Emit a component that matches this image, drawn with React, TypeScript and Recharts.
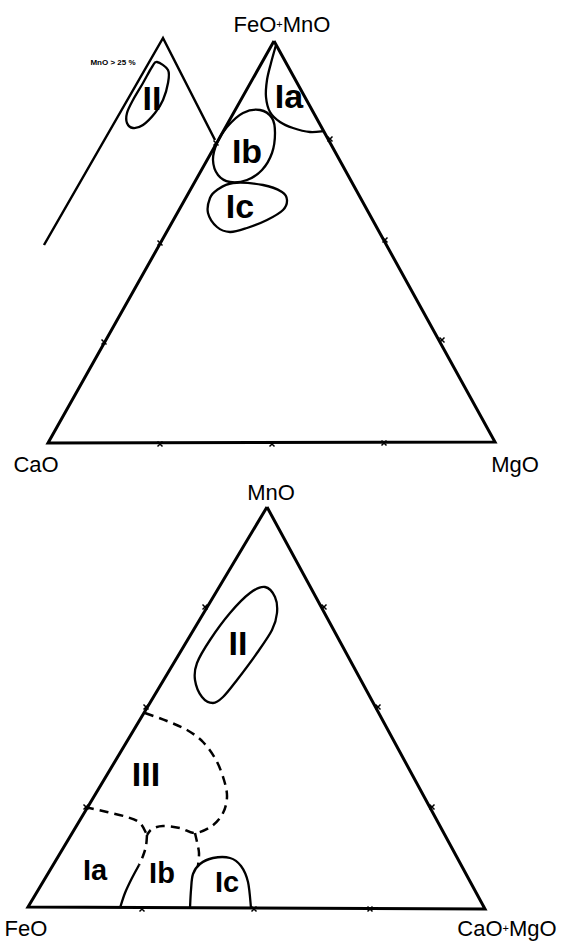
import { ComposedChart, Line, XAxis, YAxis, ReferenceDot } from 'recharts';

type Pt = { x: number; y: number };
const pts = (a: number[][]): Pt[] => a.map(([x, y]) => ({ x, y }));

// Upper diagram: CaO - MgO - (FeO+MnO)
const TOP_FRAME = pts([[274, 41], [48, 443], [495, 442], [274, 41]]);
const INSET_FRAME = pts([[44, 245], [163, 38], [215, 140]]);
const TOP_TICKS = pts([
  [216, 143], [160, 243], [104, 342],
  [330, 139], [385, 240], [442, 340],
  [160, 444], [272, 444], [384, 443],
]);
const TOP_IA = pts([[276, 45], [271, 63], [267, 80], [266, 97], [270, 112], [280, 122], [293, 128], [310, 132], [324, 131]]);
const TOP_IB = pts([[260, 110], [272, 118], [275, 133], [272, 153], [262, 170], [247, 180], [230, 182], [218, 175], [213, 160], [217, 143], [227, 127], [243, 113]]);
const TOP_IC = pts([[233, 183], [263, 185], [282, 192], [287, 200], [283, 210], [267, 220], [247, 228], [230, 232], [217, 227], [208, 213], [210, 198], [217, 190]]);
const INSET_II = pts([[157, 62], [168, 70], [168, 83], [163, 100], [155, 113], [143, 125], [133, 128], [127, 123], [127, 113], [133, 100], [143, 83], [152, 67]]);

// Lower diagram: FeO - (CaO+MgO) - MnO
const BOT_FRAME = pts([[267, 507], [28, 907], [485, 909], [267, 507]]);
const BOT_TICKS = pts([
  [205, 607], [146, 707], [86, 807],
  [324, 607], [378, 707], [432, 807],
  [142, 909], [254, 909], [370, 909],
]);
const BOT_II = pts([[265, 587], [275, 597], [277, 613], [272, 630], [257, 653], [237, 680], [223, 697], [213, 703], [202, 697], [195, 680], [197, 663], [210, 640], [230, 613], [250, 593]]);
const BOT_III_UPPER = pts([[145, 713], [167, 721], [187, 730], [203, 742], [216, 760], [224, 780], [227, 797], [223, 813], [212, 826], [195, 833], [180, 828], [163, 826], [152, 829], [147, 835]]);
const BOT_III_LOWER = pts([[85, 807], [107, 812], [127, 817], [140, 823], [147, 835]]);
const BOT_J1_DOWN = pts([[147, 835], [146, 846], [143, 856], [139, 865]]);
const BOT_J2_DOWN = pts([[195, 833], [197, 842], [199, 853], [198, 866]]);
const BOT_IA_IB = pts([[139, 865], [132, 878], [125, 893], [120, 908]]);
const BOT_IC = pts([[190, 908], [191, 890], [193, 874], [200, 864], [213, 858], [230, 858], [241, 866], [248, 882], [251, 908]]);

const CORNER_LABELS = [
  { x: 282, y: 32, text: 'FeO+MnO' },
  { x: 36, y: 472, text: 'CaO' },
  { x: 515, y: 472, text: 'MgO' },
  { x: 271, y: 500, text: 'MnO' },
  { x: 26, y: 936, text: 'FeO' },
  { x: 507, y: 936, text: 'CaO+MgO' },
];
const FIELD_LABELS = [
  { x: 289, y: 108, text: 'Ia', big: true },
  { x: 247, y: 163, text: 'Ib', big: true },
  { x: 240, y: 218, text: 'Ic', big: true },
  { x: 152, y: 110, text: 'II', big: true },
  { x: 238, y: 655, text: 'II', big: true },
  { x: 146, y: 786, text: 'III', big: true },
  { x: 95, y: 880, text: 'Ia', big: false },
  { x: 162, y: 883, text: 'Ib', big: false },
  { x: 227, y: 892, text: 'Ic', big: false },
];
const NOTE = { x: 113, y: 65, text: 'MnO > 25 %' };

// Catmull-Rom through the points, closed or open
const smooth = (closed: boolean) => (ctx: any) => {
  let p: number[][] = [];
  return {
    areaStart() {},
    areaEnd() {},
    lineStart() { p = []; },
    point(x: number, y: number) { p.push([+x, +y]); },
    lineEnd() {
      const n = p.length;
      if (!n) return;
      const at = (i: number) => (closed ? p[(i + n) % n] : p[Math.max(0, Math.min(n - 1, i))]);
      ctx.moveTo(p[0][0], p[0][1]);
      const segs = closed ? n : n - 1;
      for (let i = 0; i < segs; i++) {
        const p0 = at(i - 1), p1 = at(i), p2 = at(i + 1), p3 = at(i + 2);
        ctx.bezierCurveTo(
          p1[0] + (p2[0] - p0[0]) / 6, p1[1] + (p2[1] - p0[1]) / 6,
          p2[0] - (p3[0] - p1[0]) / 6, p2[1] - (p3[1] - p1[1]) / 6,
          p2[0], p2[1],
        );
      }
      if (closed) ctx.closePath();
    },
  };
};
const closedCurve = smooth(true);
const openCurve = smooth(false);

const FONT = '"Liberation Sans", Arial, Helvetica, sans-serif';

const Tick = (props: any) => (
  <path
    d={`M${props.cx - 2.5},${props.cy - 2.5}L${props.cx + 2.5},${props.cy + 2.5}M${props.cx + 2.5},${props.cy - 2.5}L${props.cx - 2.5},${props.cy + 2.5}`}
    stroke="#000" strokeWidth={1.5}
  />
);

export default function App() {
  const frame = { stroke: '#000', strokeWidth: 3, dot: false, activeDot: false, isAnimationActive: false } as const;
  const field = { stroke: '#000', strokeWidth: 2.3, dot: false, activeDot: false, isAnimationActive: false } as const;
  const dash = '9 6';

  return (
    <div style={{ position: 'absolute', left: 0, top: 0, width: 563, height: 941, background: '#fff' }}>
      <ComposedChart width={563} height={941} margin={{ top: 0, right: 0, bottom: 0, left: 0 }}>
        <XAxis type="number" dataKey="x" domain={[0, 563]} hide allowDataOverflow />
        <YAxis type="number" dataKey="y" domain={[0, 941]} reversed hide allowDataOverflow />

        <Line data={TOP_FRAME} dataKey="y" type="linear" {...frame} strokeLinejoin="miter" />
        <Line data={INSET_FRAME} dataKey="y" type="linear" {...field} strokeWidth={2.5} />
        <Line data={TOP_IA} dataKey="y" type={openCurve as any} {...field} />
        <Line data={TOP_IB} dataKey="y" type={closedCurve as any} {...field} />
        <Line data={TOP_IC} dataKey="y" type={closedCurve as any} {...field} />
        <Line data={INSET_II} dataKey="y" type={closedCurve as any} {...field} />

        <Line data={BOT_FRAME} dataKey="y" type="linear" {...frame} strokeLinejoin="miter" />
        <Line data={BOT_II} dataKey="y" type={closedCurve as any} {...field} />
        <Line data={BOT_III_UPPER} dataKey="y" type={openCurve as any} {...field} strokeWidth={2.5} strokeDasharray={dash} />
        <Line data={BOT_III_LOWER} dataKey="y" type={openCurve as any} {...field} strokeWidth={2.5} strokeDasharray={dash} />
        <Line data={BOT_J1_DOWN} dataKey="y" type={openCurve as any} {...field} strokeWidth={2.5} strokeDasharray={dash} />
        <Line data={BOT_J2_DOWN} dataKey="y" type={openCurve as any} {...field} strokeWidth={2.5} strokeDasharray={dash} />
        <Line data={BOT_IA_IB} dataKey="y" type={openCurve as any} {...field} />
        <Line data={BOT_IC} dataKey="y" type={openCurve as any} {...field} />

        {[...TOP_TICKS, ...BOT_TICKS].map((t, i) => (
          <ReferenceDot key={`t${i}`} x={t.x} y={t.y} r={3} shape={Tick} />
        ))}

        {CORNER_LABELS.map((l, i) => {
          const parts = l.text.split('+');
          return (
            <ReferenceDot key={`c${i}`} x={l.x} y={l.y} r={1}
              shape={(p: any) => (
                <text x={p.cx} y={p.cy} textAnchor="middle" fontFamily={FONT} fontSize={22} fill="#000">
                  {parts.length > 1 ? (
                    <>
                      {parts[0]}
                      <tspan fontSize={11} dy={-4}>+</tspan>
                      <tspan dy={4}>{parts[1]}</tspan>
                    </>
                  ) : l.text}
                </text>
              )}
            />
          );
        })}

        {FIELD_LABELS.map((l, i) => (
          <ReferenceDot key={`f${i}`} x={l.x} y={l.y} r={1}
            shape={(p: any) => (
              <text x={p.cx} y={p.cy} textAnchor="middle" fontFamily={FONT} fontWeight="bold"
                fontSize={l.big ? 34 : 29} fill="#000">
                {l.text}
              </text>
            )}
          />
        ))}

        <ReferenceDot x={NOTE.x} y={NOTE.y} r={1}
          shape={(p: any) => (
            <text x={p.cx} y={p.cy} textAnchor="middle" fontFamily={FONT} fontWeight="bold" fontSize={8} fill="#000">
              {NOTE.text}
            </text>
          )}
        />
      </ComposedChart>
    </div>
  );
}
